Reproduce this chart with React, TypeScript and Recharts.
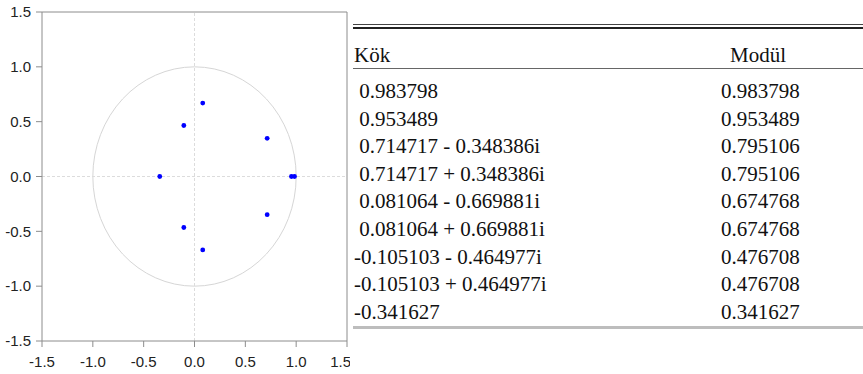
import React from "react";
import {
  ReferenceArea,
  ReferenceLine,
  Scatter,
  ScatterChart,
  XAxis,
  YAxis,
} from "recharts";

// inverse roots of the AR characteristic polynomial
const realParts = [0.983798, 0.953489, 0.714717, 0.714717, 0.081064, 0.081064, -0.105103, -0.105103, -0.341627];
const imagParts = [0, 0, -0.348386, 0.348386, -0.669881, 0.669881, -0.464977, 0.464977, 0];

const rootLabels = [
  " 0.983798",
  " 0.953489",
  " 0.714717 - 0.348386i",
  " 0.714717 + 0.348386i",
  " 0.081064 - 0.669881i",
  " 0.081064 + 0.669881i",
  "-0.105103 - 0.464977i",
  "-0.105103 + 0.464977i",
  "-0.341627",
];
const moduli = ["0.983798", "0.953489", "0.795106", "0.795106", "0.674768", "0.674768", "0.476708", "0.476708", "0.341627"];

const axisTicks = [-1.5, -1, -0.5, 0, 0.5, 1, 1.5];

const points = realParts.map((re, i) => ({ re, im: imagParts[i] }));

const boxColor = "#8c8c8c";
const serif = '"Liberation Serif", "DejaVu Serif", serif';
const sans = '"Liberation Sans", Arial, sans-serif';

function UnitCircle(props: any) {
  const { x, y, width, height } = props;
  return (
    <ellipse
      cx={x + width / 2}
      cy={y + height / 2}
      rx={width / 2}
      ry={height / 2}
      fill="none"
      stroke="#d6d6d6"
      strokeWidth={1}
    />
  );
}

function Dot(props: any) {
  return <circle cx={props.cx} cy={props.cy} r={2.4} fill="#0000ff" />;
}

function RootTable() {
  const rowTop = 78;
  const rowH = 27.6;
  const cell = { position: "absolute" as const, lineHeight: `${rowH}px`, fontFamily: serif, whiteSpace: "pre" as const };
  return (
    <div style={{ position: "absolute", left: 353, top: 0, width: 510, height: 374, fontFamily: serif, fontSize: 21, color: "#111" }}>
      <div style={{ position: "absolute", left: 0, right: 0, top: 24, height: 1, background: "#444" }} />
      <div style={{ position: "absolute", left: 0, right: 0, top: 27, height: 2, background: "#222" }} />
      <div style={{ ...cell, left: 1, top: 42 }}>Kök</div>
      <div style={{ ...cell, left: 377, top: 42 }}>Modül</div>
      <div style={{ position: "absolute", left: 0, right: 0, top: 68, height: 1, background: "#666" }} />
      {rootLabels.map((label, i) => (
        <div key={label} style={{ ...cell, left: 1, top: rowTop + i * rowH }}>
          {label}
        </div>
      ))}
      {moduli.map((m, i) => (
        <div key={`m-${i}`} style={{ ...cell, left: 368, top: rowTop + i * rowH }}>
          {m}
        </div>
      ))}
      <div style={{ position: "absolute", left: 0, right: 0, top: 326, height: 3, background: "#bdbdbd" }} />
    </div>
  );
}

export default function App() {
  const tickStyle = { fill: "#222", fontSize: 15, fontFamily: sans };
  return (
    <div style={{ position: "absolute", left: 0, top: 0, width: 863, height: 374, background: "#fff" }}>
      <div style={{ position: "absolute", left: 0, top: 0, width: 350, height: 374, overflow: "hidden" }}>
        <ScatterChart width={350} height={374} margin={{ top: 12, right: 3, bottom: 0, left: 0 }}>
          <XAxis
            type="number"
            dataKey="re"
            domain={[-1.5, 1.5]}
            ticks={axisTicks}
            tickFormatter={(v: number) => v.toFixed(1)}
            height={33}
            stroke={boxColor}
            tickSize={6}
            tickMargin={9}
            tick={tickStyle}
            fontSize={15}
            allowDataOverflow
          />
          <YAxis
            type="number"
            dataKey="im"
            domain={[-1.5, 1.5]}
            ticks={axisTicks}
            tickFormatter={(v: number) => v.toFixed(1)}
            width={42}
            stroke={boxColor}
            tickSize={6}
            tickMargin={5}
            tick={tickStyle}
            fontSize={15}
            allowDataOverflow
          />
          <ReferenceLine y={1.5} stroke={boxColor} />
          <ReferenceLine x={1.5} stroke={boxColor} />
          <ReferenceLine x={0} stroke="#dcdcdc" strokeDasharray="3 2" />
          <ReferenceLine y={0} stroke="#dcdcdc" strokeDasharray="3 2" />
          <ReferenceArea x1={-1} x2={1} y1={-1} y2={1} shape={UnitCircle} />
          <Scatter data={points} shape={Dot} isAnimationActive={false} />
        </ScatterChart>
      </div>
      <RootTable />
    </div>
  );
}
